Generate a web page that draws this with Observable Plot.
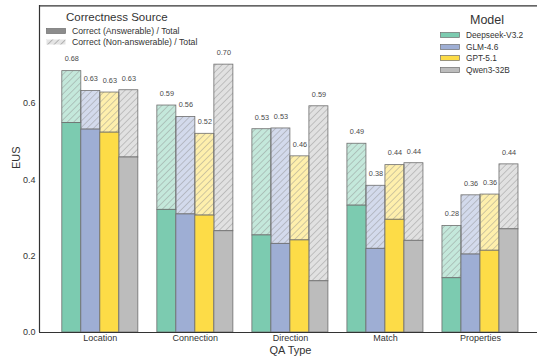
<!DOCTYPE html>
<html>
<head>
<meta charset="utf-8">
<script src="https://cdn.jsdelivr.net/npm/d3@7"></script>
<script src="https://cdn.jsdelivr.net/npm/@observablehq/plot@0.6"></script>
<style>
  html, body { margin: 0; padding: 0; background: #fff; overflow: hidden; }
  #wrap { position: relative; width: 537px; height: 362px; font-family: "Liberation Sans", Arial, sans-serif; color: #333; }
  .leg { position: absolute; font-family: "Liberation Sans", Arial, sans-serif; color: #333; }
  .leg .title { text-align: center; }
  .leg .row { display: flex; align-items: center; white-space: nowrap; }
  .leg svg { display: block; }
</style>
</head>
<body>
<div id="wrap"></div>
<script>
const qaTypes = ["Location", "Connection", "Direction", "Match", "Properties"];
const models = ["Deepseek-V3.2", "GLM-4.6", "GPT-5.1", "Qwen3-32B"];
const modelColors = ["#7ccbb0", "#9eaed4", "#fddc47", "#bcbcbc"];
const sourceLabels = ["Correct (Answerable) / Total", "Correct (Non-answerable) / Total"];

// Correct (Answerable) / Total per model, in qaTypes order
const deepseekAns = [0.548, 0.321, 0.254, 0.332, 0.142];
const glmAns      = [0.531, 0.309, 0.232, 0.219, 0.204];
const gptAns      = [0.523, 0.306, 0.241, 0.295, 0.214];
const qwenAns     = [0.458, 0.265, 0.134, 0.240, 0.270];
// Total EUS per model (answerable + non-answerable)
const deepseekTotal = [0.684, 0.594, 0.532, 0.494, 0.279];
const glmTotal      = [0.632, 0.564, 0.534, 0.384, 0.359];
const gptTotal      = [0.628, 0.520, 0.461, 0.438, 0.361];
const qwenTotal     = [0.634, 0.701, 0.592, 0.443, 0.440];

const yTicks = [0, 0.2, 0.4, 0.6];

const ansByModel = [deepseekAns, glmAns, gptAns, qwenAns];
const totByModel = [deepseekTotal, glmTotal, gptTotal, qwenTotal];
const barW = 0.2;
const rows = [];
qaTypes.forEach((t, i) => {
  models.forEach((m, j) => {
    const c = i + (j - 1.5) * barW;
    rows.push({type: t, model: m, x1: c - barW / 2, x2: c + barW / 2, xc: c,
      ans: ansByModel[j][i], total: totByModel[j][i], color: modelColors[j]});
  });
});

const xDomain = [-0.4 - 0.24, 4.4 + 0.24];
const yDomain = [0, 0.855];
const edge = "#6e6e6e";

const chart = Plot.plot({
  width: 537,
  height: 362,
  marginLeft: 39,
  marginRight: 0,
  marginTop: 5,
  marginBottom: 30,
  style: {fontFamily: "Liberation Sans, Arial, sans-serif", color: "#333", background: "white"},
  x: {type: "linear", domain: xDomain, range: [39, 540.8]},
  y: {domain: yDomain, range: [332, 5.3]},
  color: {type: "identity"},
  marks: [
    // hatched (non-answerable) part: light fill then hatch
    Plot.rectY(rows, {x1: "x1", x2: "x2", y1: "ans", y2: "total", fill: "color", fillOpacity: 0.45}),
    Plot.rectY(rows, {x1: "x1", x2: "x2", y1: "ans", y2: "total", fill: () => "url(#hatch)", stroke: edge, strokeWidth: 0.8}),
    // solid (answerable) part
    Plot.rectY(rows, {x1: "x1", x2: "x2", y1: 0, y2: "ans", fill: "color", stroke: edge, strokeWidth: 0.8}),
    // value labels
    Plot.text(rows, {x: "xc", y: "total", text: d => d.total.toFixed(2), dy: -12, fontSize: 7.3, fill: "#4a4a4a"}),
    // spines
    Plot.ruleY([yDomain[0]], {stroke: "#333", strokeWidth: 1.2}),
    Plot.ruleY([yDomain[1]], {stroke: "#333", strokeWidth: 1.2}),
    Plot.ruleX([xDomain[0]], {stroke: "#333", strokeWidth: 1.2}),
    // axes
    Plot.axisY(yTicks, {tickSize: 0, tickPadding: 4, tickFormat: d => d.toFixed(1), fontSize: 9, label: null, fill: "#333"}),
    Plot.axisX(qaTypes.map((d, i) => i), {tickSize: 0, tickPadding: 2, tickFormat: i => qaTypes[i], fontSize: 9, label: null, fill: "#333"}),
    Plot.text(["EUS"], {frameAnchor: "left", dx: -23, rotate: -90, fontSize: 11, fill: "#333"}),
    Plot.text(["QA Type"], {frameAnchor: "bottom", lineAnchor: "middle", dy: 17.5, dx: 2, fontSize: 11, fill: "#333"})
  ]
});

// hatch pattern definition
const defs = d3.select(chart).insert("defs", ":first-child");
const pat = defs.append("pattern").attr("id", "hatch").attr("patternUnits", "userSpaceOnUse")
  .attr("width", 4.6).attr("height", 4.6).attr("patternTransform", "rotate(45)");
pat.append("line").attr("x1", 0).attr("y1", 0).attr("x2", 0).attr("y2", 4.6)
  .attr("stroke", "#8a8a8a").attr("stroke-width", 0.8);

const wrap = document.getElementById("wrap");
wrap.appendChild(chart);

function swatch(fill, hatched) {
  const ns = "http://www.w3.org/2000/svg";
  const s = document.createElementNS(ns, "svg");
  s.setAttribute("width", 20); s.setAttribute("height", 6);
  s.style.marginRight = "6px";
  let inner = `<rect x="0.5" y="0.5" width="19" height="5" fill="${fill}" stroke="${edge}" stroke-width="0.7"/>`;
  if (hatched) {
    inner = `<defs><pattern id="lh" patternUnits="userSpaceOnUse" width="4.6" height="4.6" patternTransform="rotate(45)"><line x1="0" y1="0" x2="0" y2="4.6" stroke="#777" stroke-width="0.9"/></pattern></defs>` +
      `<rect x="0.5" y="0.5" width="19" height="5" fill="${fill}" stroke="none"/>` +
      `<rect x="0.5" y="0.5" width="19" height="5" fill="url(#lh)" stroke="none"/>`;
  }
  s.innerHTML = inner;
  return s;
}

// Correctness Source legend
const leg1 = document.createElement("div");
leg1.className = "leg";
leg1.style.left = "46px"; leg1.style.top = "11px";
const t1 = document.createElement("div");
t1.className = "title"; t1.textContent = "Correctness Source";
t1.style.fontSize = "11.5px"; t1.style.paddingLeft = "20px"; t1.style.textAlign = "left"; t1.style.marginBottom = "2px";
leg1.appendChild(t1);
sourceLabels.forEach((lab, k) => {
  const r = document.createElement("div"); r.className = "row";
  r.style.fontSize = "8.7px"; r.style.height = "11px";
  r.appendChild(swatch(k === 0 ? "#8c8c8c" : "#e4e4e4", k === 1));
  const sp = document.createElement("span"); sp.textContent = lab; r.appendChild(sp);
  leg1.appendChild(r);
});
wrap.appendChild(leg1);

// Model legend
const leg2 = document.createElement("div");
leg2.className = "leg";
leg2.style.left = "440px"; leg2.style.top = "13px";
const t2 = document.createElement("div");
t2.className = "title"; t2.textContent = "Model";
t2.style.fontSize = "12.5px"; t2.style.paddingLeft = "30px"; t2.style.textAlign = "left"; t2.style.marginBottom = "2px";
leg2.appendChild(t2);
models.forEach((m, j) => {
  const r = document.createElement("div"); r.className = "row";
  r.style.fontSize = "8.3px"; r.style.height = "11.7px";
  r.appendChild(swatch(modelColors[j], false));
  const sp = document.createElement("span"); sp.textContent = m; r.appendChild(sp);
  leg2.appendChild(r);
});
wrap.appendChild(leg2);
</script>
</body>
</html>
